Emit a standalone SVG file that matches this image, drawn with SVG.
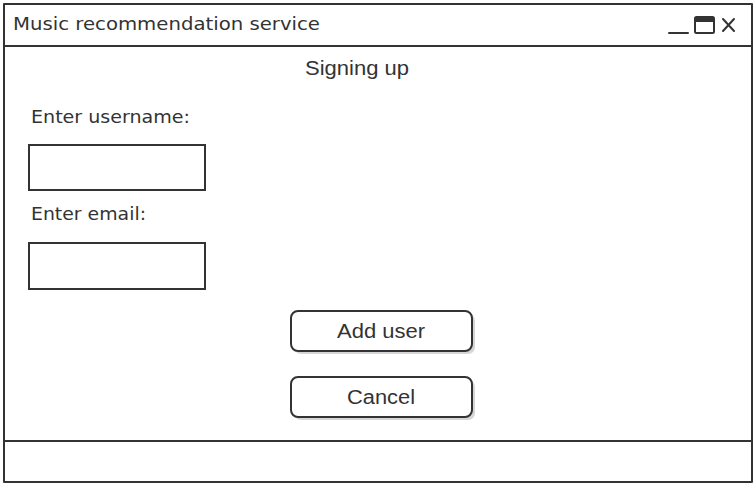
<svg xmlns="http://www.w3.org/2000/svg" width="755" height="484" viewBox="0 0 755 484">
<defs>
<style>
.ln{fill:none;stroke:#333;stroke-width:2;stroke-linecap:round;stroke-linejoin:round}
.box{fill:#fff;stroke:#333;stroke-width:2}
.h{font-family:"DejaVu Sans","Liberation Sans",sans-serif;font-size:17.5px;fill:#333}
.t{font-family:"Liberation Sans",Arial,sans-serif;font-size:20px;fill:#333}
.btn{fill:#fff;stroke:#333;stroke-width:2}
.sh{fill:#bbb;opacity:0.6}
</style>
</defs>
<rect width="755" height="484" fill="#fff"/>
<g id="window">
<path class="ln" d="M4 4 L752 4 L752 482 L4 482 Z"/>
<path class="ln" d="M4 46 L752 46"/>
<path class="ln" d="M4 441 L752 441"/>
<text class="h" x="13" y="30" textLength="307" lengthAdjust="spacingAndGlyphs">Music recommendation service</text>
</g>
<g id="controls">
<path class="ln" d="M669 33 L688 33" stroke-width="2.5"/>
<rect x="695" y="17" width="19" height="16" rx="1.5" fill="none" stroke="#333" stroke-width="2"/>
<rect x="695" y="17" width="19" height="5" fill="#333"/>
<path class="ln" d="M723 19 L734 31 M734 19 L723 31" stroke-width="2.2"/>
</g>
<g id="title">
<text class="t" x="305" y="75" textLength="104" lengthAdjust="spacingAndGlyphs">Signing up</text>
</g>
<g id="username">
<text class="h" x="31" y="123" textLength="159" lengthAdjust="spacingAndGlyphs">Enter username:</text>
<rect class="box" x="29" y="145" width="176" height="45"/>
</g>
<g id="email">
<text class="h" x="31" y="220" textLength="115" lengthAdjust="spacingAndGlyphs">Enter email:</text>
<rect class="box" x="29" y="243" width="176" height="46"/>
</g>
<g id="add-user">
<rect class="sh" x="294" y="314" width="181" height="40" rx="7"/>
<rect class="btn" x="291" y="311" width="181" height="40" rx="7"/>
<text class="t" x="337" y="337.5" textLength="88" lengthAdjust="spacingAndGlyphs">Add user</text>
</g>
<g id="cancel">
<rect class="sh" x="294" y="380" width="181" height="40" rx="7"/>
<rect class="btn" x="291" y="377" width="181" height="40" rx="7"/>
<text class="t" x="347" y="403.5" textLength="68" lengthAdjust="spacingAndGlyphs">Cancel</text>
</g>
<g id="connectors"></g>
</svg>
